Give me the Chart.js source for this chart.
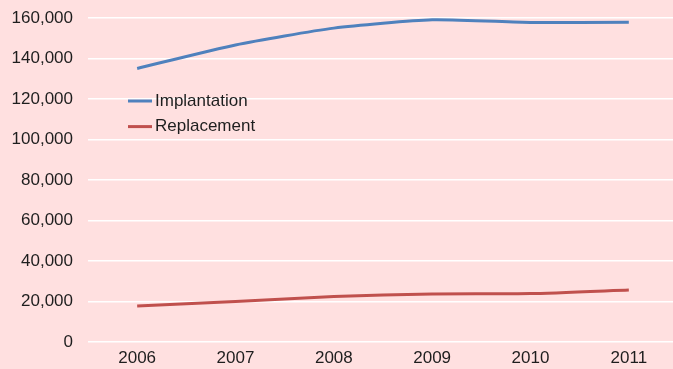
<!DOCTYPE html>
<html>
<head>
<meta charset="utf-8">
<script src="https://cdn.jsdelivr.net/npm/chart.js@4"></script>
<style>
  html, body { margin: 0; padding: 0; overflow: hidden; background: #FFE0E0; }
  #wrap { width: 678px; height: 369px; position: relative; }
</style>
</head>
<body>
<div id="wrap"><canvas id="c"></canvas></div>
<script>
// Yearly procedure counts
const years = ['2006', '2007', '2008', '2009', '2010', '2011'];
const implantation = [135100, 146700, 155000, 159100, 157800, 157900];
const replacement = [17800, 20000, 22500, 23700, 23900, 25700];
const yTicks = [0, 20000, 40000, 60000, 80000, 100000, 120000, 140000, 160000];

const seriesNames = ['Implantation', 'Replacement'];
const seriesColors = ['#4F81BD', '#C0504D'];
const textColor = '#1E1E1E';
const fontFamily = '"Liberation Sans", Arial, sans-serif';

// Legend drawn inside the plot area, left side
const insideLegend = {
  id: 'insideLegend',
  afterDatasetsDraw(chart) {
    const { ctx, chartArea } = chart;
    const x0 = chartArea.left + 40;
    let y = chartArea.top + 83;
    ctx.save();
    ctx.font = '17px ' + fontFamily;
    ctx.textBaseline = 'middle';
    ctx.textAlign = 'left';
    chart.data.datasets.forEach((ds) => {
      ctx.strokeStyle = ds.borderColor;
      ctx.lineWidth = 3;
      ctx.beginPath();
      ctx.moveTo(x0, y);
      ctx.lineTo(x0 + 24, y);
      ctx.stroke();
      ctx.fillStyle = textColor;
      ctx.fillText(ds.label, x0 + 27, y);
      y += 25.6;
    });
    ctx.restore();
  }
};

new Chart(document.getElementById('c'), {
  type: 'line',
  data: {
    labels: years,
    datasets: [
      { label: seriesNames[0], data: implantation, borderColor: seriesColors[0], backgroundColor: seriesColors[0] },
      { label: seriesNames[1], data: replacement, borderColor: seriesColors[1], backgroundColor: seriesColors[1] }
    ]
  },
  options: {
    responsive: true,
    maintainAspectRatio: false,
    animation: false,
    layout: { padding: { top: 18, left: 0, right: 0, bottom: 0 } },
    elements: {
      point: { radius: 0, hoverRadius: 0 },
      line: { borderWidth: 3, tension: 0.2, borderCapStyle: 'butt' }
    },
    plugins: {
      legend: { display: false },
      tooltip: { enabled: false }
    },
    scales: {
      x: {
        offset: true,
        grid: { display: false, drawTicks: false },
        border: { display: false },
        ticks: { color: textColor, font: { family: fontFamily, size: 17 }, padding: 6, maxRotation: 0 },
        afterFit(scale) { scale.height = 27; scale.paddingLeft = 0; scale.paddingRight = 0; }
      },
      y: {
        min: 0,
        max: 160000,
        afterBuildTicks(scale) { scale.ticks = yTicks.map(v => ({ value: v })); },
        grid: { color: '#FFFFFF', lineWidth: 1.5, drawTicks: false },
        border: { display: false },
        ticks: {
          color: textColor,
          font: { family: fontFamily, size: 17 },
          padding: 15,
          callback: (v) => v.toLocaleString('en-US')
        },
        afterFit(scale) { scale.width = 88; scale.paddingTop = 0; scale.paddingBottom = 0; }
      }
    }
  },
  plugins: [insideLegend]
});
</script>
</body>
</html>
